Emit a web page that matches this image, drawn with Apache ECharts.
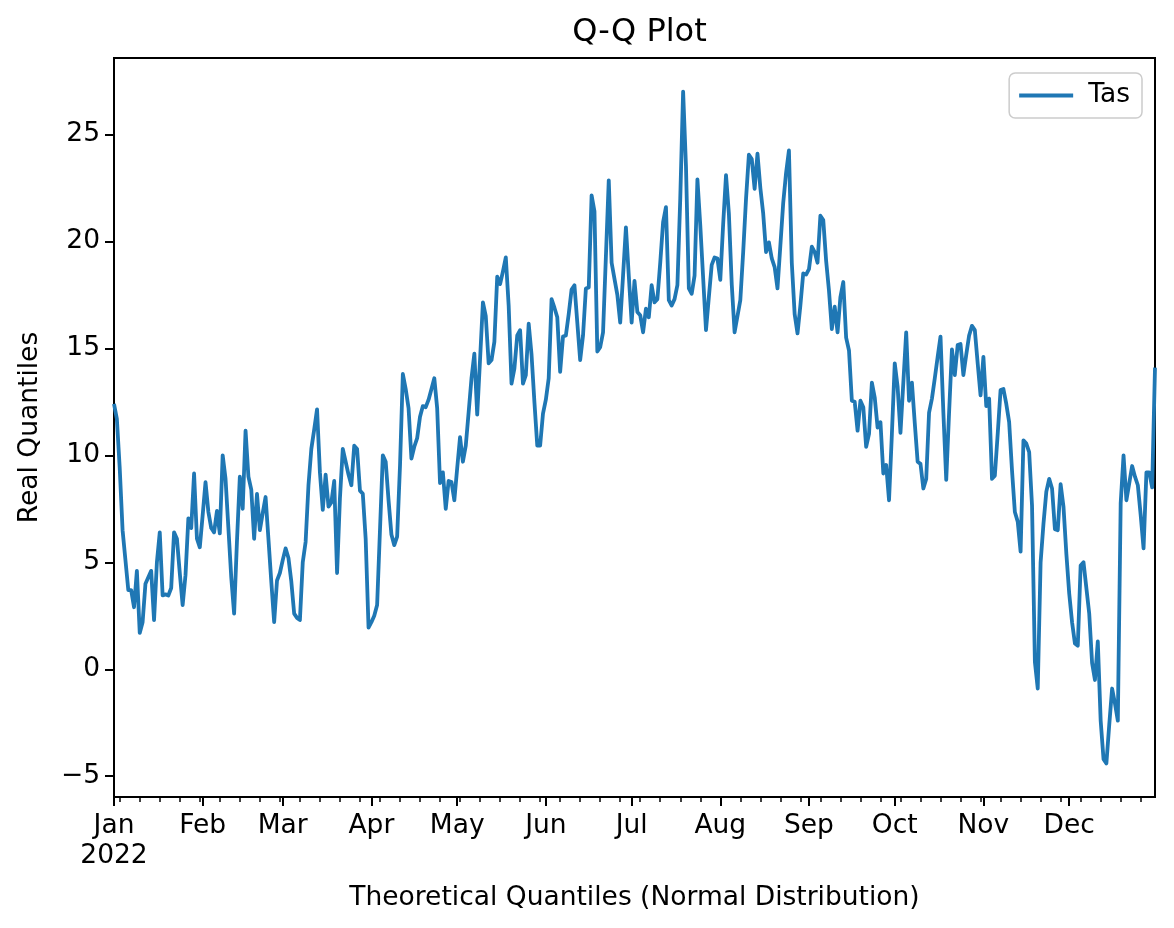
<!DOCTYPE html>
<html>
<head>
<meta charset="utf-8">
<script src="https://cdn.jsdelivr.net/npm/echarts@6/dist/echarts.min.js"></script>
<style>
html,body{margin:0;padding:0;background:#fff;}
#chart{width:1174px;height:928px;}
</style>
</head>
<body>
<div id="chart"></div>
<script>
// Daily mean temperature "Tas", 2022 (one array per month)
const jan = [12.4,11.7,9.4,6.5,5.1,3.7,3.7,2.9,4.6,1.7,2.2,4.0,4.3,4.6,2.3,5.0,6.4,3.45,3.5,3.45,3.8,6.4,6.1,4.5,3.0,4.4,7.05,6.6,9.15,6.1,5.7];
const feb = [7.2,8.75,7.35,6.6,6.4,7.4,6.35,10.0,8.9,6.6,4.3,2.6,6.0,9.0,7.5,11.15,9.0,8.4,6.1,8.2,6.5,7.3,8.05,6.1,4.1,2.2,4.15,4.5];
const mar = [5.1,5.65,5.2,4.1,2.6,2.4,2.3,5.0,5.95,8.6,10.3,11.2,12.15,9.2,7.45,9.1,7.6,7.8,8.8,4.5,8.0,10.3,9.7,9.1,8.6,10.45,10.3,8.35,8.2,6.1,1.95];
const apr = [2.2,2.5,3.0,6.5,10.0,9.7,7.9,6.3,5.8,6.2,9.5,13.8,13.1,12.2,9.85,10.4,10.8,11.8,12.3,12.25,12.6,13.1,13.6,12.2,8.7,9.2,7.5,8.8,8.75,7.9];
const may = [9.4,10.85,9.7,10.45,12.0,13.6,14.75,11.9,14.5,17.15,16.5,14.3,14.45,15.3,18.35,18.0,18.6,19.25,17.0,13.35,14.05,15.6,15.85,13.35,13.75,16.15,14.7,12.5,10.45,10.45,11.95];
const jun = [12.6,13.6,17.3,16.9,16.45,13.9,15.55,15.6,16.6,17.75,17.95,16.2,14.45,15.6,17.8,17.85,22.15,21.4,14.85,15.05,15.75,19.3,22.85,19.0,18.25,17.5,16.2,18.4,20.65,18.4];
const jul = [16.2,18.15,16.7,16.55,15.75,16.85,16.45,17.95,17.15,17.3,19.0,20.9,21.6,17.25,17.0,17.3,17.95,22.0,27.0,23.5,17.8,17.55,18.4,22.9,20.75,18.3,15.85,17.4,18.9,19.25,19.2];
const aug = [18.2,20.8,23.1,21.3,18.0,15.75,16.5,17.25,19.5,22.0,24.05,23.85,22.45,24.1,22.5,21.3,19.5,19.95,19.2,18.8,17.8,19.8,21.8,23.2,24.25,19.0,16.6,15.7,17.0,18.5,18.45];
const sep = [18.7,19.75,19.5,19.0,21.2,21.0,19.1,17.7,15.9,16.95,15.75,17.4,18.1,15.5,14.9,12.55,12.5,11.15,12.55,12.25,10.4,11.0,13.4,12.7,11.3,11.55,9.15,9.55,7.9,11.0];
const oct = [14.3,13.2,11.05,13.4,15.75,12.55,13.4,11.5,9.7,9.6,8.45,8.9,12.0,12.65,13.6,14.6,15.55,12.0,8.85,12.0,14.95,13.75,15.15,15.2,13.75,14.7,15.6,16.05,15.85,14.3,12.8];
const nov = [14.6,12.3,12.65,8.9,9.05,11.0,13.05,13.1,12.4,11.55,9.3,7.35,6.9,5.5,10.7,10.55,10.15,7.65,0.35,-0.9,5.0,6.8,8.3,8.9,8.45,6.55,6.5,8.65,7.6,5.4];
const dec = [3.55,2.2,1.2,1.1,4.85,5.0,3.8,2.6,0.3,-0.5,1.3,-2.4,-4.2,-4.4,-2.6,-0.9,-1.6,-2.4,7.75,10.0,7.9,8.7,9.5,9.0,8.6,7.2,5.65,9.2,9.2,8.5,14.1];

const months = [jan,feb,mar,apr,may,jun,jul,aug,sep,oct,nov,dec];
const monthNames = ['Jan','Feb','Mar','Apr','May','Jun','Jul','Aug','Sep','Oct','Nov','Dec'];
const yearLabel = '2022';
const yTicks = [-5,0,5,10,15,20,25];
const seriesName = 'Tas';

const values = [].concat(...months);
const monthStarts = [];
let acc = 0;
months.forEach(m => { monthStarts.push(acc); acc += m.length; });
const lastDay = values.length - 1;
const mondays = [];
for (let d = 2; d <= lastDay; d += 7) mondays.push(d); // 2022-01-03 is a Monday
const seriesData = values.map((v, i) => [i, v]);

const FONT = 'DejaVu Sans';
const FS = 26.5;

const chart = echarts.init(document.getElementById('chart'), null, {renderer: 'canvas'});
chart.setOption({
  animation: false,
  backgroundColor: '#ffffff',
  textStyle: {fontFamily: FONT, color: '#000'},
  title: {
    text: 'Q-Q Plot',
    left: 634.5,
    textAlign: 'center',
    top: 12,
    textStyle: {fontFamily: FONT, fontSize: 32, fontWeight: 'normal', color: '#000'}
  },
  legend: {
    data: [seriesName],
    right: 32,
    top: 73,
    orient: 'vertical',
    icon: 'rect',
    itemWidth: 54,
    itemHeight: 4,
    itemGap: 0,
    padding: [9, 12, 9, 10],
    backgroundColor: 'rgba(255,255,255,0.8)',
    borderColor: '#cccccc',
    borderWidth: 1.5,
    borderRadius: 6,
    textStyle: {fontFamily: FONT, fontSize: FS, color: '#000', padding: [0, 0, 0, 10]}
  },
  grid: {
    left: 114, right: 19, top: 58, bottom: 131,
    show: true, borderColor: '#000', borderWidth: 2, backgroundColor: 'transparent'
  },
  xAxis: [{
    type: 'value',
    min: 0, max: lastDay,
    position: 'bottom',
    name: 'Theoretical Quantiles (Normal Distribution)',
    nameLocation: 'middle',
    nameGap: 88,
    nameTextStyle: {fontFamily: FONT, fontSize: FS, color: '#000'},
    axisLine: {show: true, onZero: false, lineStyle: {color: '#000', width: 2}},
    axisTick: {show: true, customValues: monthStarts, length: 9, lineStyle: {color: '#000', width: 2}},
    axisLabel: {
      show: true, customValues: monthStarts, margin: 14,
      fontFamily: FONT, fontSize: FS, color: '#000', lineHeight: 30,
      formatter: function (v) {
        const idx = monthStarts.indexOf(v);
        if (idx < 0) return '';
        return idx === 0 ? monthNames[0] + '\n' + yearLabel : monthNames[idx];
      }
    },
    splitLine: {show: false}
  }, {
    type: 'value',
    min: 0, max: lastDay,
    position: 'bottom',
    axisLine: {show: false, onZero: false},
    axisTick: {show: true, customValues: mondays, length: 5, lineStyle: {color: '#000', width: 1.5}},
    axisLabel: {show: false},
    splitLine: {show: false}
  }],
  yAxis: {
    type: 'value',
    min: -5.97, max: 28.57,
    name: 'Real Quantiles',
    nameLocation: 'middle',
    nameRotate: 90,
    nameGap: 70,
    nameTextStyle: {fontFamily: FONT, fontSize: FS, color: '#000'},
    axisLine: {show: true, onZero: false, lineStyle: {color: '#000', width: 2}},
    axisTick: {show: true, customValues: yTicks, length: 9, lineStyle: {color: '#000', width: 2}},
    axisLabel: {
      show: true, customValues: yTicks, margin: 14,
      fontFamily: FONT, fontSize: FS, color: '#000',
      formatter: function (v) { return v < 0 ? '\u2212' + Math.abs(v) : String(v); }
    },
    splitLine: {show: false}
  },
  series: [{
    name: seriesName,
    type: 'line',
    xAxisIndex: 0,
    data: seriesData,
    showSymbol: false,
    symbol: 'none',
    clip: true,
    color: '#1f77b4',
    lineStyle: {color: '#1f77b4', width: 3.8, join: 'round', cap: 'butt'}
  }]
});
</script>
</body>
</html>
